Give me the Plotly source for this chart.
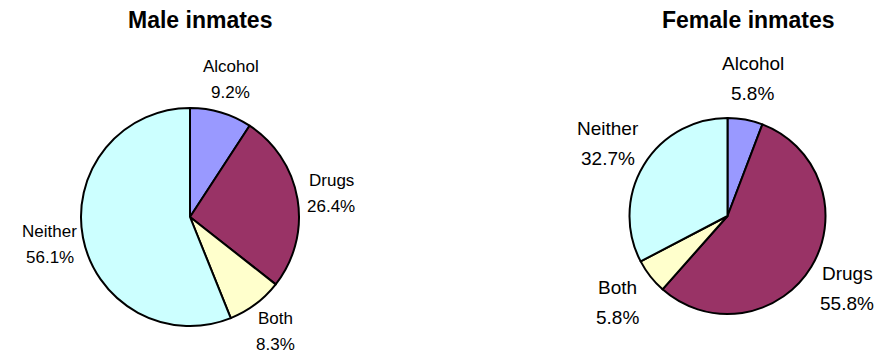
import math
import plotly.graph_objects as go

categories = ["Alcohol", "Drugs", "Both", "Neither"]
male_values = [9.2, 26.4, 8.3, 56.1]
female_values = [5.8, 55.8, 5.8, 32.7]
colors = ["#9999FF", "#993366", "#FFFFCC", "#CCFFFF"]

W, H = 881, 356
FONT = "Liberation Sans, Arial"

def dom(cx, cy, r):
    return dict(x=[(cx - r) / W, (cx + r) / W], y=[(H - cy - r) / H, (H - cy + r) / H])

pies = [
    dict(values=male_values, cx=190, cy=217, r=109, dist=143, fs=17, gap=26, title="Male inmates", tx=200),
    dict(values=female_values, cx=727.5, cy=216, r=98, dist=140, fs=19, gap=30, title="Female inmates", tx=748),
]

fig = go.Figure()
annotations = []
for p in pies:
    fig.add_trace(go.Pie(
        labels=categories, values=p["values"], sort=False, direction="clockwise", rotation=0,
        marker=dict(colors=colors, line=dict(color="black", width=2)),
        textinfo="none", domain=dom(p["cx"], p["cy"], p["r"]),
        showlegend=False, hoverinfo="label+value",
    ))
    total = sum(p["values"])
    cum = 0.0
    for lab, v in zip(categories, p["values"]):
        mid = (cum + v / 2) / total * 2 * math.pi
        cum += v
        lx = p["cx"] + p["dist"] * math.sin(mid)
        ly = p["cy"] - p["dist"] * math.cos(mid)
        for txt, off in ((lab, -p["gap"] / 2), (f"{v:.1f}%", p["gap"] / 2)):
            annotations.append(dict(
                text=txt, x=lx / W, y=(H - ly - off) / H, xref="paper", yref="paper",
                xanchor="center", yanchor="middle", showarrow=False,
                font=dict(family=FONT, size=p["fs"], color="black"),
            ))
    annotations.append(dict(
        text="<b>" + p["title"] + "</b>", x=p["tx"] / W, y=1 - 20 / H, xref="paper", yref="paper",
        xanchor="center", yanchor="middle", showarrow=False,
        font=dict(family=FONT, size=23, color="black"),
    ))

fig.update_layout(
    width=W, height=H, margin=dict(l=0, r=0, t=0, b=0),
    paper_bgcolor="white", plot_bgcolor="white",
    annotations=annotations,
)
fig.write_html("out.html")
